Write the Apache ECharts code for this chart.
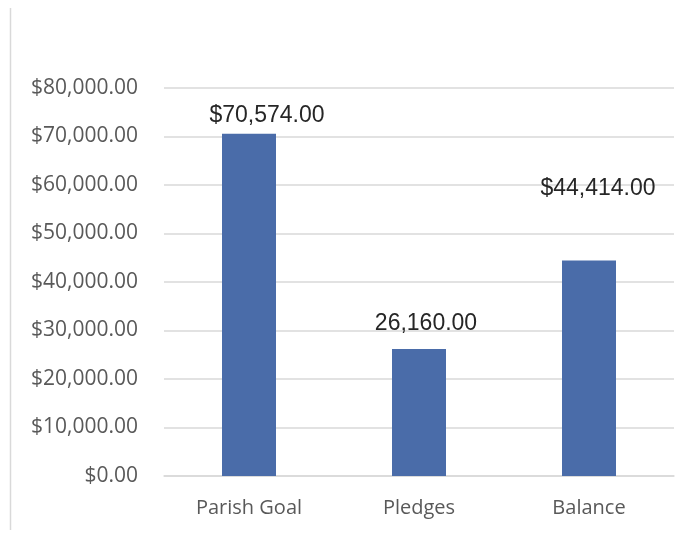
<!DOCTYPE html>
<html>
<head>
<meta charset="utf-8">
<script src="https://cdn.jsdelivr.net/npm/echarts@6/dist/echarts.min.js"></script>
<style>
  html, body { margin: 0; padding: 0; background: #fff; }
  #chart { width: 697px; height: 533px; }
</style>
</head>
<body>
<div id="chart"></div>
<script>
// chart data
const categories = ['Parish Goal', 'Pledges', 'Balance'];
const amounts = [70574, 26160, 44414];
const labelTexts = ['$70,574.00', '26,160.00', '$44,414.00'];
// manual label nudges (Excel labels were dragged around)
const labelOffsets = [[18, -7], [7, -14], [9, -60]];

const money = v => '$' + v.toLocaleString('en-US', { minimumFractionDigits: 2, maximumFractionDigits: 2 });

let chart = echarts.init(document.getElementById('chart'));
let option = {
    animation: false,
    graphic: [{
        type: 'line',
        shape: { x1: 10.5, y1: 8, x2: 10.5, y2: 530 },
        style: { stroke: '#d9d9d9', lineWidth: 1.5 }
    }],
    grid: { left: 164, right: 23, top: 88, bottom: 57 },
    xAxis: {
        type: 'category',
        data: categories,
        axisLine: { lineStyle: { color: '#d9d9d9', width: 1.5 } },
        axisTick: { show: false },
        axisLabel: { color: '#595959', fontSize: 20, fontFamily: 'Open Sans', margin: 22 }
    },
    yAxis: {
        type: 'value',
        min: 0,
        max: 80000,
        interval: 10000,
        axisLine: { show: false },
        axisTick: { show: false },
        splitLine: { lineStyle: { color: '#d9d9d9', width: 1.5 } },
        axisLabel: { color: '#595959', fontSize: 21, fontFamily: 'Open Sans', margin: 26, formatter: money }
    },
    series: [{
        type: 'bar',
        barWidth: 54,
        itemStyle: { color: '#4a6ca9' },
        data: amounts.map((v, i) => ({
            value: v,
            label: {
                show: true,
                position: 'top',
                distance: 0,
                offset: labelOffsets[i],
                formatter: labelTexts[i]
            }
        })),
        label: { color: '#262626', fontSize: 23, fontFamily: 'Liberation Sans' }
    }]
};
chart.setOption(option);
</script>
</body>
</html>
